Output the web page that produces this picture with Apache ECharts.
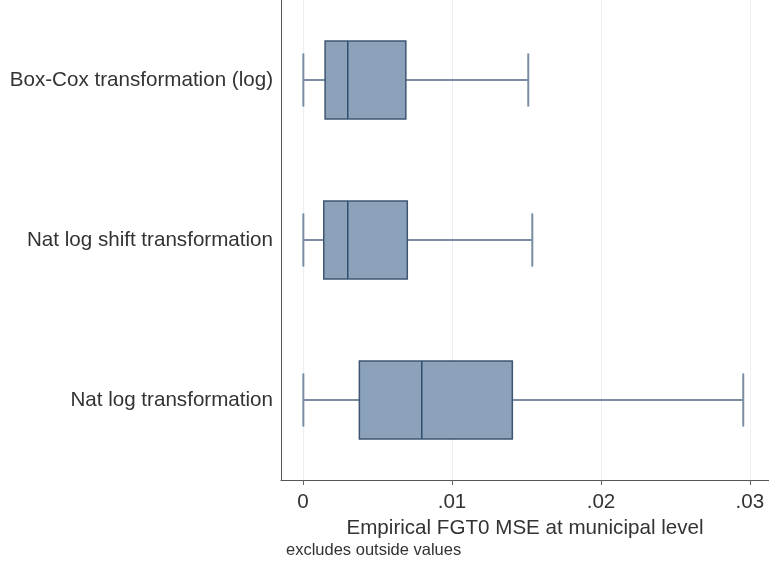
<!DOCTYPE html>
<html>
<head>
<meta charset="utf-8">
<script src="https://cdn.jsdelivr.net/npm/echarts@6/dist/echarts.min.js"></script>
<style>
  html, body { margin: 0; padding: 0; background: #ffffff; }
  #chart { width: 769px; height: 565px; }
</style>
</head>
<body>
<div id="chart"></div>
<script>
// Box plot summaries of municipal-level FGT0 MSE by transformation
const categories = [
  'Box-Cox transformation (log)',
  'Nat log shift transformation',
  'Nat log transformation'
];
const lowerWhisker = [0.00002, 0.00002, 0.00002];
const quartile1    = [0.00148, 0.00139, 0.00378];
const medians      = [0.0030, 0.0030, 0.00797];
const quartile3    = [0.0069, 0.0070, 0.01405];
const upperWhisker = [0.01512, 0.01539, 0.02955];
const tickValues   = [0, 0.01, 0.02, 0.03];
const tickLabels   = ['0', '.01', '.02', '.03'];

const rows = categories.map((c, i) => [i, lowerWhisker[i], quartile1[i], medians[i], quartile3[i], upperWhisker[i]]);

const FONT = '"Liberation Sans", Arial, Helvetica, sans-serif';
const BOX_FILL = '#8ba2ba';
const BOX_EDGE = '#3f5670';
const MEDIAN = '#2f4d6e';
const WHISKER = '#7a8da3';

function renderBox(params, api) {
  const cat = api.value(0);
  const band = api.size([0, 1])[1];
  const boxHalf = band * 0.243;
  const capHalf = band * 0.166;
  const pLow = api.coord([api.value(1), cat]);
  const pQ1 = api.coord([api.value(2), cat]);
  const pMed = api.coord([api.value(3), cat]);
  const pQ3 = api.coord([api.value(4), cat]);
  const pHigh = api.coord([api.value(5), cat]);
  const y = pMed[1];
  const wStyle = { stroke: WHISKER, lineWidth: 2 };
  return {
    type: 'group',
    children: [
      { type: 'line', shape: { x1: pLow[0], y1: y, x2: pQ1[0], y2: y }, style: wStyle },
      { type: 'line', shape: { x1: pQ3[0], y1: y, x2: pHigh[0], y2: y }, style: wStyle },
      { type: 'line', shape: { x1: pLow[0], y1: y - capHalf, x2: pLow[0], y2: y + capHalf }, style: wStyle },
      { type: 'line', shape: { x1: pHigh[0], y1: y - capHalf, x2: pHigh[0], y2: y + capHalf }, style: wStyle },
      { type: 'rect', shape: { x: pQ1[0], y: y - boxHalf, width: pQ3[0] - pQ1[0], height: boxHalf * 2 },
        style: { fill: BOX_FILL, stroke: BOX_EDGE, lineWidth: 1.5 } },
      { type: 'line', shape: { x1: pMed[0], y1: y - boxHalf, x2: pMed[0], y2: y + boxHalf },
        style: { stroke: MEDIAN, lineWidth: 1.5 } }
    ]
  };
}

const chart = echarts.init(document.getElementById('chart'), null, { renderer: 'canvas' });
chart.setOption({
  animation: false,
  backgroundColor: '#ffffff',
  grid: { left: 281, right: 0, top: 0, bottom: 85 },
  xAxis: {
    type: 'value',
    min: -0.00148,
    max: 0.03128,
    name: 'Empirical FGT0 MSE at municipal level',
    nameLocation: 'middle',
    nameGap: 31,
    nameTextStyle: { fontFamily: FONT, fontSize: 20.6, color: '#333333' },
    axisLine: { show: true, onZero: false, lineStyle: { color: '#555555', width: 1 } },
    axisTick: { show: true, length: 5, customValues: tickValues, lineStyle: { color: '#666666' } },
    axisLabel: {
      customValues: tickValues,
      margin: 12,
      fontFamily: FONT, fontSize: 20.6, color: '#333333',
      formatter: v => {
        const i = tickValues.findIndex(t => Math.abs(t - v) < 1e-9);
        return i >= 0 ? tickLabels[i] : '';
      }
    },
    splitLine: { show: true, lineStyle: { color: '#eceff3', width: 1 } }
  },
  yAxis: {
    type: 'category',
    data: categories,
    inverse: true,
    axisLine: { show: true, onZero: false, lineStyle: { color: '#555555', width: 1 } },
    axisTick: { show: false },
    axisLabel: { margin: 8, fontFamily: FONT, fontSize: 20.6, color: '#333333' },
    splitLine: { show: false }
  },
  graphic: [{
    type: 'text',
    left: 286,
    top: 542,
    style: { text: 'excludes outside values', fontFamily: FONT, fontSize: 16.5, fill: '#333333' }
  }],
  series: [{
    type: 'custom',
    renderItem: renderBox,
    encode: { x: [1, 2, 3, 4, 5], y: 0 },
    data: rows
  }]
});
</script>
</body>
</html>
